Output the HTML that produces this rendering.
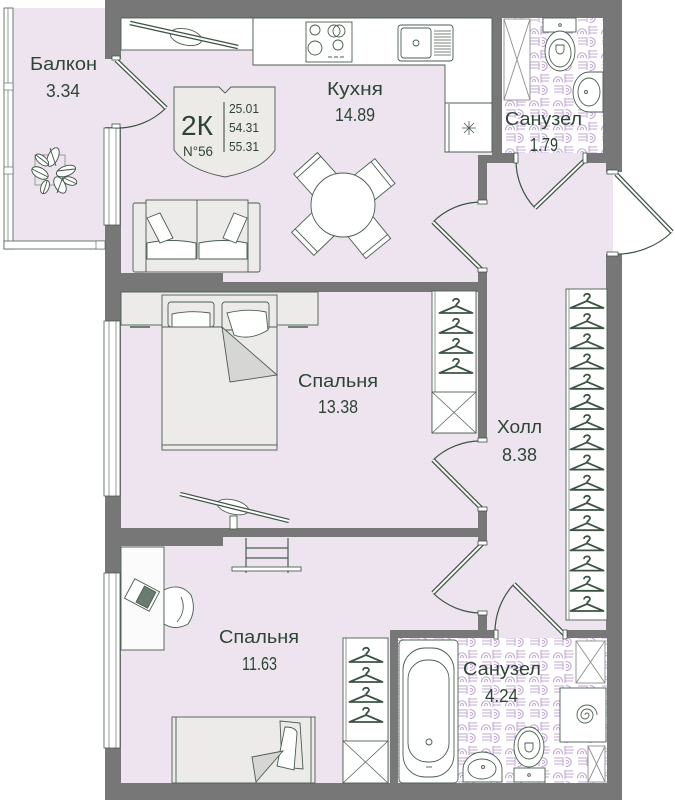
<!DOCTYPE html>
<html><head><meta charset="utf-8"><style>
html,body{margin:0;padding:0;background:#fff;width:675px;height:800px;overflow:hidden}
svg{display:block}
text{font-family:"Liberation Sans","DejaVu Sans",sans-serif;fill:#2e4435}
</style></head><body>
<svg width="675" height="800" viewBox="0 0 675 800" xmlns="http://www.w3.org/2000/svg">
<defs>
<pattern id="tile" width="24" height="24" patternUnits="userSpaceOnUse">
<rect width="24" height="24" fill="#fff"/>
<g fill="none" stroke="#c3a9d6" stroke-width="1.1">
<path d="M1.5,10.5 C1.5,3 10.5,3 10.5,10.5 M4.5,10 C4.5,6.5 7.5,6.5 7.5,10"/>
<path d="M13,2 v9 M13,3 h8 M13,6 h9 M13,9 h8"/>
<path d="M2,14 h8 M2,17 h9 M2,20 h8 M11,13 v9"/>
<path d="M13.5,13.5 C21,13.5 21,22.5 13.5,22.5 M14,16.5 C17.5,16.5 17.5,19.5 14,19.5"/>
</g>
</pattern>
<g id="hg" fill="none" stroke="#3d5444" stroke-width="1.8" stroke-linejoin="round">
<path d="M-3,3.5 C-3,0 3,0 3,3 C3,5 0,5.5 0,8"/>
<path d="M0,8 L-16.5,15 L16.5,15 Z"/>
</g>
</defs>

<!-- building footprint walls -->
<rect x="105" y="0" width="517" height="800" fill="#777"/>

<!-- balcony -->
<rect x="13" y="8" width="92" height="233" fill="#ede4ef"/>
<rect x="4" y="8" width="9" height="241" fill="#fff" stroke="#4b5d50" stroke-width="0.8"/>
<line x1="8" y1="8" x2="8" y2="249" stroke="#4b5d50" stroke-width="0.6"/>
<rect x="4" y="83" width="9" height="7" fill="#fff" stroke="#4b5d50" stroke-width="0.6"/>
<rect x="4" y="167" width="9" height="7" fill="#fff" stroke="#4b5d50" stroke-width="0.6"/>
<rect x="4" y="241" width="101" height="8" fill="#fff" stroke="#4b5d50" stroke-width="0.8"/>
<rect x="96" y="241" width="9" height="8" fill="#fff" stroke="#4b5d50" stroke-width="0.6"/>

<!-- rooms -->
<path d="M121,18 H492 V155 H478 V282 H223 V273 H121 Z" fill="#ede4ef"/>
<rect x="502" y="18" width="101" height="135" fill="url(#tile)"/>
<rect x="487" y="163" width="119" height="467" fill="#ede4ef"/>
<rect x="121" y="292" width="357" height="236" fill="#ede4ef"/>
<path d="M121,546 H223 V537 H478 V630 H390 V783 H121 Z" fill="#ede4ef"/>
<rect x="398" y="638" width="209" height="145" fill="url(#tile)"/>

<!-- openings -->
<rect x="478" y="203" width="9" height="68" fill="#ede4ef"/>
<rect x="478" y="441" width="9" height="68" fill="#ede4ef"/>
<rect x="478" y="544" width="9" height="69" fill="#ede4ef"/>
<rect x="514" y="153" width="72" height="10" fill="#ede4ef"/>
<rect x="495" y="630" width="70" height="8" fill="#ede4ef"/>
<rect x="105" y="59" width="16" height="68" fill="#ede4ef"/>
<rect x="606" y="172" width="7" height="82" fill="#ede4ef"/>
<rect x="613" y="172" width="12" height="82" fill="#fff"/>

<!-- windows -->
<g fill="#fff" stroke="#4b5d50" stroke-width="0.8">
<rect x="104" y="128" width="16" height="97"/>
<rect x="104" y="321" width="16" height="175"/>
<rect x="104" y="573" width="16" height="175"/>
</g>
<g stroke="#4b5d50" stroke-width="0.6">
<line x1="109" y1="128" x2="109" y2="225"/><line x1="116" y1="128" x2="116" y2="225"/>
<line x1="109" y1="321" x2="109" y2="496"/><line x1="116" y1="321" x2="116" y2="496"/>
<line x1="109" y1="573" x2="109" y2="748"/><line x1="116" y1="573" x2="116" y2="748"/>
</g>

<!-- doors -->
<g fill="none" stroke="#3e5244" stroke-width="1.2">
<path d="M166,108 A69,69 0 0 1 116,128"/>
<path d="M433,222 A68.6,68.6 0 0 1 482,202"/>
<path d="M433,460 A69,69 0 0 1 482,441"/>
<path d="M433,593 A69,69 0 0 0 482,613"/>
<path d="M535,208 A69,69 0 0 1 516,160"/>
<path d="M514,584 A71,71 0 0 0 495,635"/>
<path d="M672,232 A80,80 0 0 1 614,254"/>
</g>
<g stroke="#3e5244" stroke-width="4.5" stroke-linecap="butt">
<line x1="116" y1="60" x2="166" y2="108"/>
<line x1="482" y1="270" x2="433" y2="222"/>
<line x1="482" y1="509" x2="433" y2="460"/>
<line x1="482" y1="544" x2="433" y2="593"/>
<line x1="585" y1="160" x2="535" y2="208"/>
<line x1="565" y1="635" x2="514" y2="584"/>
<line x1="616" y1="174" x2="672" y2="232"/>
</g>
<g stroke="#fff" stroke-width="2">
<line x1="116" y1="60" x2="166" y2="108"/>
<line x1="482" y1="270" x2="433" y2="222"/>
<line x1="482" y1="509" x2="433" y2="460"/>
<line x1="482" y1="544" x2="433" y2="593"/>
<line x1="585" y1="160" x2="535" y2="208"/>
<line x1="565" y1="635" x2="514" y2="584"/>
<line x1="616" y1="174" x2="672" y2="232"/>
</g>
<g fill="#fff" stroke="#3e5244" stroke-width="0.8">
<rect x="112" y="56" width="8" height="4"/><rect x="112" y="124" width="8" height="4"/>
<rect x="478" y="200" width="9" height="4"/><rect x="478" y="268" width="9" height="4"/>
<rect x="478" y="438" width="9" height="4"/><rect x="478" y="507" width="9" height="4"/>
<rect x="478" y="541" width="9" height="4"/><rect x="478" y="611" width="9" height="4"/>
<rect x="514" y="153" width="4" height="10"/><rect x="583" y="153" width="4" height="10"/>
<rect x="494" y="630" width="4" height="9"/><rect x="563" y="630" width="4" height="9"/>
<rect x="607" y="170" width="11" height="4"/><rect x="607" y="252" width="11" height="4"/>
</g>

<!-- plant -->
<g stroke="#3e5244" stroke-width="0.9" fill="#fff">
<rect x="35" y="155" width="30" height="30" fill="none" stroke="#8a968c"/>
<ellipse cx="53" cy="157" rx="5" ry="10" transform="rotate(25 53 157)"/>
<ellipse cx="66" cy="171" rx="10" ry="5" transform="rotate(-20 66 171)"/>
<ellipse cx="40" cy="173" rx="9" ry="5" transform="rotate(30 40 173)"/>
<ellipse cx="60" cy="185" rx="5" ry="9" transform="rotate(-30 60 185)"/>
<ellipse cx="42" cy="160" rx="8" ry="4" transform="rotate(40 42 160)"/>
<ellipse cx="70" cy="181" rx="7" ry="4" transform="rotate(15 70 181)"/>
<ellipse cx="45" cy="187" rx="4" ry="7" transform="rotate(20 45 187)"/>
<path d="M50,148 L56,166 M57,171 L75,169 M32,169 L48,177 M63,177 L57,193 M36,155 L49,165 M64,178 L77,184 M47,181 L43,194" fill="none"/>
</g>

<!-- kitchen furniture -->
<g stroke="#4b5d50" stroke-width="0.9">
<rect x="121" y="18" width="132" height="32" fill="#fff"/>
<path d="M253,18 H492 V152 H445 V65 H253 Z" fill="#fff"/>
<line x1="445" y1="103" x2="492" y2="103"/>
<line x1="449" y1="104" x2="449" y2="152"/>
<rect x="306" y="22" width="46" height="40" fill="#fff"/>
<circle cx="315" cy="30" r="5" fill="none"/>
<circle cx="334" cy="31" r="6" fill="none"/>
<circle cx="339" cy="31" r="6" fill="none"/>
<circle cx="315" cy="48" r="7" fill="none"/>
<circle cx="338" cy="45" r="5" fill="none"/>
<path d="M328,57 h4 M334,57 h4 M340,57 h4" />
<rect x="398" y="25" width="55" height="36" rx="3" fill="#fff"/>
<rect x="401" y="28" width="30" height="30" rx="3" fill="none"/>
<circle cx="416" cy="43" r="3" fill="none"/>
<path d="M434,31 h17 M434,34 h17 M434,37 h17 M434,40 h17 M434,43 h17 M434,46 h17 M434,49 h17 M434,52 h17 M434,55 h17" stroke-width="0.7"/>
<path d="M462,128 h14 M469,121 v14 M464,123 l10,10 M474,123 l-10,10" stroke-width="0.8"/>
<ellipse cx="186" cy="37" rx="16" ry="8" transform="rotate(13 186 37)" fill="#fff"/>
</g>
<line x1="130" y1="23" x2="238" y2="47" stroke="#3e5244" stroke-width="4.5"/>
<line x1="130" y1="23" x2="238" y2="47" stroke="#fff" stroke-width="2"/>

<!-- sofa -->
<g stroke="#4b5d50" stroke-width="0.9">
<rect x="133" y="203" width="14" height="69" rx="2" fill="#ecebe9"/>
<rect x="247" y="203" width="13" height="69" rx="2" fill="#ecebe9"/>
<rect x="146" y="200" width="102" height="72" fill="#ecebe9"/>
<line x1="197" y1="200" x2="197" y2="259"/>
<path d="M147,243 Q172,238 196,243 V259 H147 Z" fill="#fff"/>
<path d="M199,243 Q223,238 247,243 V259 H199 Z" fill="#fff"/>
<path d="M147,218 L160,213 L173,238 L160,243 Z" fill="#fff"/>
<path d="M247,218 L234,213 L223,238 L236,243 Z" fill="#fff"/>
</g>

<!-- table and chairs -->
<g stroke="#4b5d50" stroke-width="0.9" fill="#fff">
<g transform="translate(343 205)">
<g transform="rotate(-42)"><rect x="-16" y="-56" width="32" height="32"/><line x1="-16" y1="-51" x2="16" y2="-51"/></g>
<g transform="rotate(51)"><rect x="-16" y="-54" width="32" height="30"/><line x1="-16" y1="-49" x2="16" y2="-49"/></g>
<g transform="rotate(-134)"><rect x="-16" y="-56" width="32" height="32"/><line x1="-16" y1="-51" x2="16" y2="-51"/></g>
<g transform="rotate(141)"><rect x="-16" y="-56" width="32" height="32"/><line x1="-16" y1="-51" x2="16" y2="-51"/></g>
<circle cx="0" cy="0" r="32"/>
</g>
</g>

<!-- badge -->
<path d="M174,87 L219,87 L225,93 L231,87 L275,87 L275,150 Q262,170 225,177 Q188,170 174,150 Z" fill="#ecebe8" stroke="#4b5d50" stroke-width="0.9"/>
<line x1="224" y1="102" x2="224" y2="152" stroke="#2e4435" stroke-width="1"/>
<text x="181" y="135" font-size="28" textLength="32" lengthAdjust="spacingAndGlyphs">2К</text>
<text x="183" y="156" font-size="14" textLength="30" lengthAdjust="spacingAndGlyphs">N°56</text>
<text x="229" y="113" font-size="13" textLength="30" lengthAdjust="spacingAndGlyphs">25.01</text>
<text x="229" y="132" font-size="13" textLength="30" lengthAdjust="spacingAndGlyphs">54.31</text>
<text x="229" y="151" font-size="13" textLength="30" lengthAdjust="spacingAndGlyphs">55.31</text>

<!-- bathroom 1 -->
<g stroke="#4b5d50" stroke-width="0.9" fill="#fff">
<rect x="504" y="19" width="26" height="81" stroke="#8d8d8d"/>
<path d="M504,19 L530,100 M530,19 L504,100" stroke="#8d8d8d" fill="none"/>
<rect x="543" y="18" width="33" height="14"/>
<ellipse cx="560" cy="51" rx="15" ry="20"/>
<ellipse cx="560" cy="53" rx="11" ry="14" fill="none"/>
<path d="M556,45 h8 v5 a4,4 0 0 1 -8,0 z" fill="none"/>
<circle cx="560" cy="25" r="1.3" fill="none"/>
<path d="M603,72 H589 A16,20 0 0 0 589,112 H603 Z"/>
<ellipse cx="589" cy="92" rx="11" ry="14" fill="none"/>
<circle cx="586" cy="92" r="1.5" fill="none"/>
</g>

<!-- hall wardrobe -->
<rect x="566" y="289" width="41" height="331" fill="#fff" stroke="#4b5d50" stroke-width="0.9"/>
<line x1="569" y1="289" x2="569" y2="620" stroke="#4b5d50" stroke-width="0.6"/>
<use href="#hg" x="587" y="293"/><use href="#hg" x="587" y="313.2"/><use href="#hg" x="587" y="333.4"/><use href="#hg" x="587" y="353.6"/>
<use href="#hg" x="587" y="373.8"/><use href="#hg" x="587" y="394"/><use href="#hg" x="587" y="414.2"/><use href="#hg" x="587" y="434.4"/>
<use href="#hg" x="587" y="454.6"/><use href="#hg" x="587" y="474.8"/><use href="#hg" x="587" y="495"/><use href="#hg" x="587" y="515.2"/>
<use href="#hg" x="587" y="535.4"/><use href="#hg" x="587" y="555.6"/><use href="#hg" x="587" y="575.8"/><use href="#hg" x="587" y="596"/>

<!-- bedroom 1 -->
<g stroke="#4b5d50" stroke-width="0.9">
<rect x="121" y="292" width="197" height="33" fill="#ecebe9"/>
<line x1="130" y1="327" x2="150" y2="327" stroke-width="1.5"/>
<line x1="288" y1="327" x2="308" y2="327" stroke-width="1.5"/>
<rect x="162" y="295" width="115" height="150" fill="#ecebe9"/>
<rect x="162" y="445" width="115" height="5" fill="#ecebe9"/>
<line x1="162" y1="327" x2="277" y2="327"/>
<rect x="168" y="302" width="46" height="25" rx="3" fill="#ecebe9"/>
<path d="M172,314 Q191,310 210,313 V327 H172 Z" fill="#fff"/>
<rect x="222" y="302" width="47" height="28" rx="3" fill="#ecebe9"/>
<path d="M227,313 Q248,308 266,312 L268,330 Q250,341 234,335 Z" fill="#fff"/>
<path d="M222,327 L277,375 L230,382 Z" fill="#d6d6d4"/>
<rect x="432" y="291" width="44" height="142" fill="#fff"/>
<line x1="435" y1="291" x2="435" y2="392" stroke-width="0.6"/>
<rect x="432" y="392" width="44" height="41" fill="#fff"/>
<path d="M432,392 L476,433 M476,392 L432,433" stroke-width="0.7"/>
<ellipse cx="233" cy="507" rx="16" ry="7" transform="rotate(14 233 507)" fill="#fff"/>
<rect x="230" y="516" width="7" height="13" fill="#fff"/>
</g>
<line x1="180" y1="494" x2="289" y2="521" stroke="#3e5244" stroke-width="4.5"/>
<line x1="180" y1="494" x2="289" y2="521" stroke="#fff" stroke-width="2"/>
<use href="#hg" x="456" y="298"/><use href="#hg" x="456" y="318"/><use href="#hg" x="456" y="338"/><use href="#hg" x="456" y="358"/>

<!-- bedroom 2 -->
<g stroke="#4b5d50" stroke-width="0.9">
<rect x="121" y="547" width="43" height="103" fill="#fbfbfb"/>
<g transform="rotate(28 142 595)">
<rect x="128" y="584" width="28" height="22" fill="#fff"/>
<rect x="140" y="586" width="13" height="18" fill="#6b7b6f"/>
</g>
<path d="M164,590 Q180,582 191,595 Q197,611 188,624 Q175,631 164,624 Z" fill="#fff"/>
<path d="M181,597 Q187,610 177,622" fill="none"/>
<path d="M246,538 V573 M288,538 V573 M246,548 H288 M246,558 H288" fill="none" stroke-width="1.2"/>
<rect x="232" y="567" width="69" height="4" fill="#fff"/>
<rect x="172" y="717" width="143" height="66" fill="#ecebe9"/>
<line x1="176" y1="717" x2="176" y2="783"/>
<line x1="311" y1="717" x2="311" y2="783"/>
<path d="M280,721 L300,723 L303,769 L282,767 Z" fill="#ecebe9"/>
<path d="M285,727 Q296,727 297,733 L294,770 L277,766 Z" fill="#fff"/>
<path d="M252,757 L283,751 L256,782 Z" fill="#d6d6d4"/>
<rect x="343" y="638" width="45" height="145" fill="#fff"/>
<line x1="346" y1="638" x2="346" y2="741" stroke-width="0.6"/>
<rect x="343" y="741" width="45" height="42" fill="#fff"/>
<path d="M343,741 L388,783 M388,741 L343,783" stroke-width="0.7"/>
</g>
<use href="#hg" x="366" y="647"/><use href="#hg" x="366" y="667"/><use href="#hg" x="366" y="687"/><use href="#hg" x="366" y="707"/>

<!-- bathroom 2 -->
<g stroke="#4b5d50" stroke-width="0.9" fill="#fff">
<rect x="399" y="640" width="59" height="143" rx="4"/>
<rect x="403" y="648" width="51" height="129" rx="22" fill="none"/>
<rect x="408" y="660" width="41" height="102" rx="19" fill="none"/>
<circle cx="429" cy="742" r="3" fill="none"/>
<line x1="426" y1="767" x2="432" y2="767"/>
<rect x="576" y="641" width="29" height="42" stroke="#8d8d8d"/>
<path d="M576,641 L605,683 M605,641 L576,683" stroke="#8d8d8d" fill="none"/>
<rect x="560" y="688" width="46" height="54"/>
<path d="M585,715 a2,2 0 0 1 4,0 a4,4 0 0 1 -8,0 a6,6 0 0 1 12,0 a8,8 0 0 1 -16,0 a10,10 0 0 1 20,0" fill="none"/>
<rect x="588" y="746" width="17" height="36" stroke="#8d8d8d"/>
<path d="M588,746 L605,782 M605,746 L588,782" stroke="#8d8d8d" fill="none"/>
<path d="M463,782 V770 A19.5,18 0 0 1 502,770 V782 Z"/>
<ellipse cx="482" cy="769" rx="14" ry="10" fill="none"/>
<circle cx="483" cy="767" r="1.5" fill="none"/>
<rect x="514" y="768" width="31" height="14"/>
<ellipse cx="529" cy="747" rx="15" ry="20"/>
<ellipse cx="529" cy="745" rx="11" ry="14" fill="none"/>
<path d="M525,743 h8 v5 a4,4 0 0 1 -8,0 z" fill="none"/>
<circle cx="529" cy="775" r="1.3" fill="none"/>
</g>

<!-- labels -->
<g font-size="18">
<text x="30" y="70" textLength="67" lengthAdjust="spacingAndGlyphs">Балкон</text>
<text x="46" y="97" textLength="34" lengthAdjust="spacingAndGlyphs">3.34</text>
<text x="327" y="95" textLength="56" lengthAdjust="spacingAndGlyphs">Кухня</text>
<text x="335" y="121" textLength="40" lengthAdjust="spacingAndGlyphs">14.89</text>
<text x="505" y="125" textLength="77" lengthAdjust="spacingAndGlyphs">Санузел</text>
<text x="530" y="151" textLength="28" lengthAdjust="spacingAndGlyphs">1.79</text>
<text x="298" y="387" textLength="80" lengthAdjust="spacingAndGlyphs">Спальня</text>
<text x="318" y="413" textLength="40" lengthAdjust="spacingAndGlyphs">13.38</text>
<text x="497" y="433" textLength="45" lengthAdjust="spacingAndGlyphs">Холл</text>
<text x="502" y="461" textLength="35" lengthAdjust="spacingAndGlyphs">8.38</text>
<text x="219" y="643" textLength="80" lengthAdjust="spacingAndGlyphs">Спальня</text>
<text x="242" y="670" textLength="35" lengthAdjust="spacingAndGlyphs">11.63</text>
<text x="463" y="675" textLength="78" lengthAdjust="spacingAndGlyphs">Санузел</text>
<text x="485" y="702" textLength="33" lengthAdjust="spacingAndGlyphs">4.24</text>
</g>
</svg>
</body></html>
